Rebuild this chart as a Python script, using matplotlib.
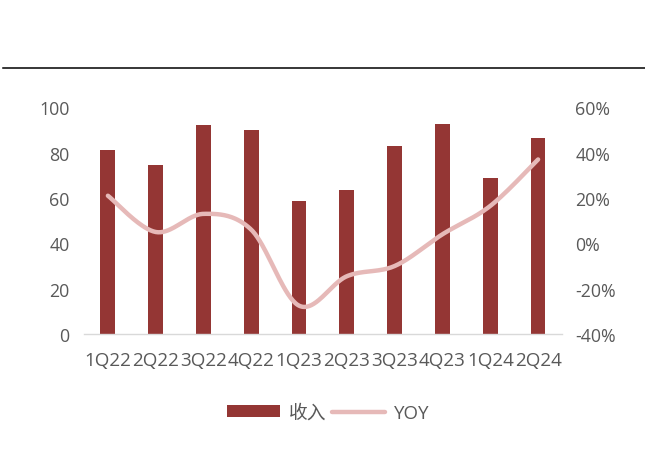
import numpy as np
import matplotlib
matplotlib.use("Agg")
import matplotlib.pyplot as plt
from matplotlib.lines import Line2D
from matplotlib.patches import Patch

plt.rcParams['font.family'] = ['Open Sans', 'Noto Sans CJK SC', 'DejaVu Sans']

quarters = ["1Q22", "2Q22", "3Q22", "4Q22", "1Q23", "2Q23", "3Q23", "4Q23", "1Q24", "2Q24"]
revenue = [81.3, 74.5, 92.2, 90.0, 58.7, 63.4, 82.8, 92.5, 68.7, 86.5]
yoy = [21.0, 5.0, 13.0, 6.0, -27.5, -14.5, -10.0, 4.0, 16.5, 37.0]

bar_color = "#943634"
line_color = "#E6B9B8"
text_color = "#595959"


def smooth_curve(x, y, steps=40):
    """Cubic Bezier smoothing through every point (Catmull-Rom style)."""
    x = np.asarray(x, float)
    y = np.asarray(y, float)
    n = len(x)
    xs, ys = [], []
    for i in range(n - 1):
        p0 = (x[max(i - 1, 0)], y[max(i - 1, 0)])
        p1 = (x[i], y[i])
        p2 = (x[i + 1], y[i + 1])
        p3 = (x[min(i + 2, n - 1)], y[min(i + 2, n - 1)])
        c1 = (p1[0] + (p2[0] - p0[0]) / 6, p1[1] + (p2[1] - p0[1]) / 6)
        c2 = (p2[0] - (p3[0] - p1[0]) / 6, p2[1] - (p3[1] - p1[1]) / 6)
        t = np.linspace(0, 1, steps)
        bx = ((1 - t) ** 3) * p1[0] + 3 * ((1 - t) ** 2) * t * c1[0] + 3 * (1 - t) * t ** 2 * c2[0] + t ** 3 * p2[0]
        by = ((1 - t) ** 3) * p1[1] + 3 * ((1 - t) ** 2) * t * c1[1] + 3 * (1 - t) * t ** 2 * c2[1] + t ** 3 * p2[1]
        xs.extend(bx)
        ys.extend(by)
    return np.array(xs), np.array(ys)


fig = plt.figure(figsize=(6.45, 4.52), dpi=100)
ax = fig.add_axes([0.1302, 0.2588, 0.7411, 0.5016])
ax2 = ax.twinx()

x = np.arange(len(quarters))
ax.bar(x, revenue, width=0.31, color=bar_color, zorder=2)
ax.set_xlim(-0.5, len(quarters) - 0.5)
ax.set_ylim(0, 100)
ax.set_yticks(range(0, 101, 20))
ax.set_xticks(x)
ax.set_xticklabels(quarters)

sx, sy = smooth_curve(x, yoy)
ax2.plot(sx, sy, color=line_color, lw=3.2, solid_capstyle="round", zorder=3)
ax2.set_ylim(-40, 60)
ax2.set_yticks(range(-40, 61, 20))
ax2.set_yticklabels([f"{v}%" for v in range(-40, 61, 20)])

for a in (ax, ax2):
    for s in a.spines.values():
        s.set_visible(False)
    a.tick_params(length=0, labelsize=12.8, labelcolor=text_color)
ax.spines['bottom'].set_visible(True)
ax.spines['bottom'].set_color("#D9D9D9")
ax.spines['bottom'].set_linewidth(1.0)
ax.tick_params(axis='y', pad=10.5)
ax.tick_params(axis='x', pad=12, labelsize=13.6)
ax2.tick_params(axis='y', pad=9.5)

# horizontal rule above the chart
fig.add_artist(Line2D([3 / 645, 1.0], [1 - 69.3 / 452] * 2, color="black", lw=1.1,
                      transform=fig.transFigure))

handles = [Patch(facecolor=bar_color, edgecolor="none"),
           Line2D([0], [0], color=line_color, lw=3.2, solid_capstyle="round")]
leg = fig.legend(handles, ["收入", "YOY"], loc="center", bbox_to_anchor=(328 / 645, 1 - 414 / 452),
                 ncol=2, frameon=False, fontsize=13.5, labelcolor=text_color,
                 handlelength=2.85, handleheight=0.62, handletextpad=0.45, columnspacing=0.3)

fig.savefig("out.png", dpi=100)
